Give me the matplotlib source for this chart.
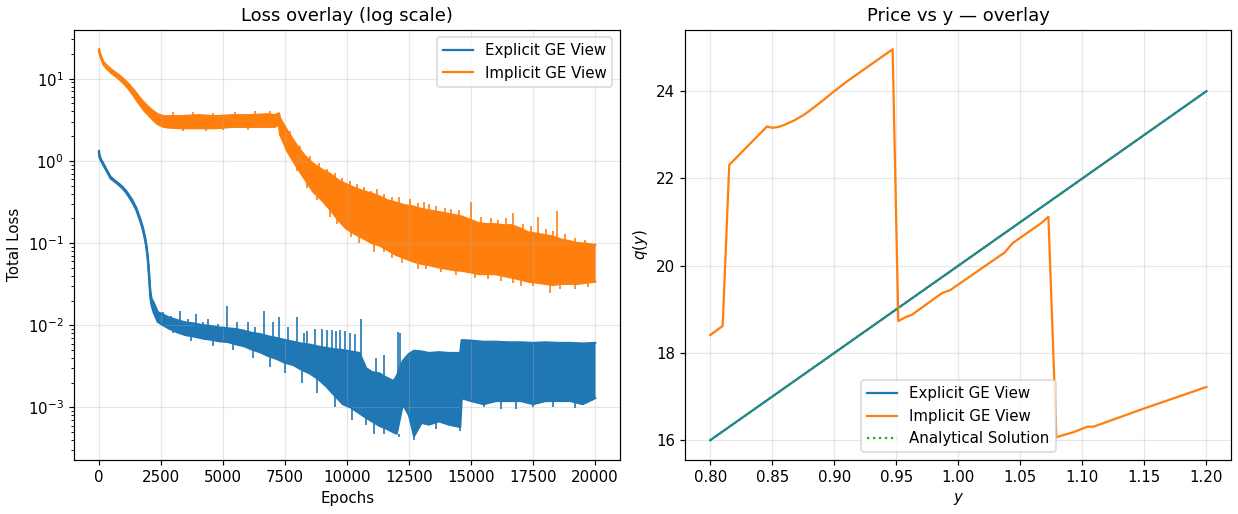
import numpy as np
import matplotlib.pyplot as plt

# =================================================
# Training loss envelopes (per-epoch loss is too dense to show point by point,
# so the noisy band is kept as its upper / lower edge plus the visible spikes)
# =================================================
exp_epoch = [0, 20, 70, 150, 300, 470, 600, 800, 930, 1100, 1330, 1500, 1670,
             1770, 1870, 1930, 1970, 2000, 2030, 2070, 2120, 2200, 2370,
             2800, 3170, 3500, 3840, 4200, 4500, 4850, 5170, 5500, 5830, 6150,
             6500, 6850, 7170, 7500, 7830, 8150, 8500, 8850, 9170, 9500,
             9830, 10150, 10500, 10770, 11000, 11300, 11600, 11870, 12000,
             12250, 12500, 12700, 13000, 13300, 13700, 14100, 14560, 14620,
             15000, 15500, 16000, 16500, 17000, 17500, 18000, 18500, 19000,
             19500, 20000]
exp_hi = [1.32, 1.17, 1.07, 0.96, 0.79, 0.64, 0.59, 0.53, 0.49, 0.43, 0.34,
          0.27, 0.195, 0.155, 0.113, 0.087, 0.067, 0.052, 0.039, 0.026, 0.021,
          0.019, 0.0145, 0.0125, 0.0115, 0.0108, 0.0105, 0.0100, 0.0098,
          0.0094, 0.0092, 0.0090, 0.0086, 0.0081, 0.0078, 0.0073, 0.0070,
          0.0066, 0.0063, 0.0060, 0.0058, 0.0055, 0.0053, 0.0051, 0.0050,
          0.0048, 0.0046, 0.0030, 0.0027, 0.0026, 0.0023, 0.0021, 0.0024,
          0.0037, 0.0045, 0.0049, 0.0048, 0.0046, 0.0047, 0.0046, 0.0046,
          0.0066, 0.0065, 0.0063, 0.0063, 0.0062, 0.0062, 0.0061, 0.0062,
          0.0061, 0.0061, 0.0060, 0.0061]
exp_lo = [1.24, 1.11, 1.02, 0.92, 0.76, 0.61, 0.57, 0.51, 0.47, 0.41, 0.32,
          0.255, 0.183, 0.145, 0.105, 0.080, 0.061, 0.047, 0.034, 0.022,
          0.0175, 0.0145, 0.011, 0.0092, 0.0082, 0.0076, 0.0073, 0.0069,
          0.0067, 0.0064, 0.0063, 0.0059, 0.0056, 0.0051, 0.0047, 0.0042,
          0.0039, 0.0035, 0.0033, 0.0029, 0.0026, 0.0022, 0.0018, 0.0014,
          0.0011, 0.0010, 0.00085, 0.00075, 0.00068, 0.00060, 0.00055,
          0.00050, 0.00048, 0.0011, 0.0008, 0.00045, 0.00065, 0.00062,
          0.00068, 0.00062, 0.00058, 0.0013, 0.0012, 0.0011, 0.0012, 0.0012,
          0.0012, 0.0011, 0.0012, 0.0012, 0.0012, 0.0011, 0.0013]

exp_spike_epoch = [2600, 2900, 3270, 3600, 3920, 4200, 4400, 4800, 5170, 5550,
                   6000, 6300, 6670, 7000, 7270, 7600, 8000, 8250, 8400, 8700,
                   9000, 9200, 9400, 9550, 9700, 9900, 10100, 10300, 10560,
                   11150, 11500, 12050, 12150,
                   3000, 3700, 4600, 5400, 6200, 6900, 7500, 8200, 8800, 9500,
                   10200, 10770, 11100, 11500, 12080, 12680, 13600, 14540,
                   15500, 16200, 16800, 17500, 18300, 19200]
exp_spike_from = [0.012, 0.011, 0.010, 0.010, 0.0095, 0.0092, 0.009, 0.009,
                  0.0088, 0.0085, 0.008, 0.0078, 0.0075, 0.007, 0.0068,
                  0.0065, 0.0062, 0.006, 0.0058, 0.0056, 0.0054, 0.0053,
                  0.0052, 0.0051, 0.0050, 0.0050, 0.0048, 0.0047, 0.0040,
                  0.0026, 0.0025, 0.0024, 0.0024,
                  0.0090, 0.0075, 0.0066, 0.0060, 0.0050, 0.0040, 0.0035,
                  0.0028, 0.0022, 0.0014, 0.0010, 0.0008, 0.0007, 0.0006,
                  0.00048, 0.0006, 0.0007, 0.0006, 0.0012, 0.0012, 0.0012,
                  0.0012, 0.0012, 0.0012]
exp_spike_to = [0.0145, 0.013, 0.015, 0.012, 0.0138, 0.011, 0.012, 0.0105,
                0.0174, 0.011, 0.011, 0.0095, 0.0151, 0.011, 0.0126, 0.0095,
                0.0126, 0.0080, 0.0085, 0.0089, 0.0089, 0.0087, 0.0088,
                0.0086, 0.0088, 0.0085, 0.0080, 0.0078, 0.0120, 0.0040,
                0.0044, 0.0083, 0.0081,
                0.0080, 0.0065, 0.0056, 0.0050, 0.0040, 0.0031, 0.0026,
                0.0020, 0.0015, 0.0010, 0.0007, 0.00062, 0.00048, 0.00048,
                0.00044, 0.00040, 0.00055, 0.00052, 0.0010, 0.00095, 0.00095,
                0.0010, 0.0010, 0.00098]

imp_epoch = [0, 60, 170, 300, 500, 800, 1040, 1200, 1400, 1550, 1700, 1850,
             2000, 2200, 2370, 2600, 2800, 3300, 4000, 4700,
             5400, 6100, 6800, 7100, 7250, 7300, 7600, 7970, 8300, 8640, 9000,
             9300, 9650, 9970, 10300, 10640, 11000, 11300, 11650, 11970, 12300,
             12640, 13000, 13300, 13650, 13970, 14300, 14640, 15000, 15300,
             15650, 15970, 16300, 16640, 17000, 17300, 17650, 17970, 18300,
             18650, 19000, 19300, 19650, 20000]
imp_hi = [22.8, 19.6, 16.2, 14.6, 12.9, 11.1, 9.6, 8.6, 7.3, 6.4, 5.6, 5.0,
          4.5, 4.0, 3.7, 3.5, 3.5, 3.5, 3.6, 3.5, 3.6,
          3.6, 3.7, 3.6, 3.8, 3.3, 2.3, 1.55, 1.15, 0.92, 0.78, 0.70, 0.58,
          0.52, 0.47, 0.43, 0.40, 0.37, 0.33, 0.31, 0.29, 0.28, 0.26, 0.25,
          0.24, 0.23, 0.22, 0.21, 0.19, 0.175, 0.17, 0.17, 0.165, 0.165, 0.15,
          0.135, 0.13, 0.125, 0.12, 0.11, 0.105, 0.10, 0.098, 0.095]
imp_lo = [21.4, 18.6, 15.0, 13.4, 11.7, 10.0, 8.5, 7.5, 6.2, 5.3, 4.6, 4.0,
          3.6, 3.1, 2.8, 2.6, 2.55, 2.5, 2.5, 2.5, 2.6,
          2.6, 2.6, 2.6, 2.8, 2.1, 1.3, 0.85, 0.60, 0.42, 0.33, 0.26, 0.19,
          0.15, 0.13, 0.115, 0.10, 0.094, 0.082, 0.072, 0.066, 0.060, 0.056,
          0.054, 0.051, 0.049, 0.047, 0.046, 0.044, 0.042, 0.042, 0.042,
          0.040, 0.038, 0.036, 0.034, 0.033, 0.032, 0.031, 0.032, 0.032,
          0.032, 0.033, 0.034]

imp_spike_epoch = [3000, 3800, 4600, 5500, 6300, 6900,
                   7700, 8100, 8500, 8850, 9200, 9500, 9800, 10100, 10400, 10700,
                   10970, 11200, 11500, 11800, 12100, 12540, 12850, 13100, 13300,
                   13600, 13950, 14200, 14500, 15010, 15400, 15800, 16100, 16400,
                   16680, 17100, 17400, 17700, 18000, 18300, 18480, 18800, 19200,
                   19600,
                   3400, 4300, 5000, 6000,
                   8000, 8400, 8800, 9300, 9600, 10170, 10500, 11080, 11500,
                   11810, 12200, 12840, 13200, 13800, 14400, 15170, 15700, 16200,
                   16700, 17010, 17500, 18170, 18600, 19170, 19700]
imp_spike_from = [3.5, 3.6, 3.5, 3.6, 3.6, 3.7,
                  2.0, 1.35, 1.0, 0.83, 0.72, 0.62, 0.55, 0.50, 0.46, 0.42,
                  0.40, 0.38, 0.35, 0.31, 0.30, 0.28, 0.27, 0.26, 0.25, 0.24,
                  0.23, 0.22, 0.21, 0.19, 0.175, 0.17, 0.167, 0.165, 0.165,
                  0.145, 0.135, 0.13, 0.125, 0.12, 0.115, 0.108, 0.10, 0.098,
                  2.5, 2.5, 2.55, 2.6,
                  0.85, 0.55, 0.38, 0.26, 0.20, 0.14, 0.12, 0.10, 0.088, 0.076,
                  0.068, 0.058, 0.055, 0.050, 0.047, 0.043, 0.042, 0.040,
                  0.038, 0.036, 0.034, 0.031, 0.032, 0.032, 0.033]
imp_spike_to = [3.9, 3.9, 3.8, 3.9, 4.0, 4.0,
                2.3, 1.5, 1.15, 0.95, 0.80, 0.72, 0.62, 0.57, 0.52, 0.48,
                0.43, 0.45, 0.40, 0.36, 0.36, 0.34, 0.31, 0.32, 0.30, 0.28,
                0.27, 0.26, 0.25, 0.32, 0.21, 0.20, 0.19, 0.20, 0.23, 0.17,
                0.16, 0.21, 0.15, 0.14, 0.245, 0.13, 0.115, 0.11,
                2.3, 2.3, 2.35, 2.35,
                0.75, 0.47, 0.33, 0.21, 0.17, 0.12, 0.10, 0.078, 0.077, 0.065,
                0.058, 0.048, 0.048, 0.044, 0.041, 0.038, 0.037, 0.035, 0.033,
                0.030, 0.030, 0.0246, 0.028, 0.028, 0.029]

# =================================================
# Price function q(y)
# =================================================
y_exp = [0.80, 1.20]
q_exp = [16.0, 24.0]

y_ana = [0.80, 1.20]
q_ana = [16.0, 24.0]

y_imp = [0.800, 0.810, 0.8153, 0.8457, 0.850, 0.855, 0.860, 0.867, 0.875,
         0.880, 0.890, 0.900, 0.910, 0.923, 0.935, 0.947, 0.9516, 0.9574,
         0.9628, 0.9867, 0.9934, 1.0372, 1.0439, 1.0665, 1.0726, 1.079,
         1.0934, 1.104, 1.109, 1.149, 1.200]
q_imp = [18.41, 18.62, 22.31, 23.19, 23.16, 23.18, 23.23, 23.32, 23.45,
         23.55, 23.77, 24.00, 24.22, 24.48, 24.72, 24.96, 18.73, 18.82,
         18.88, 19.37, 19.44, 20.30, 20.52, 20.97, 21.12, 16.07, 16.19,
         16.31, 16.31, 16.72, 17.22]

c_exp = "#1f77b4"
c_imp = "#ff7f0e"
c_ana = "#2ca02c"

fig, (ax1, ax2) = plt.subplots(1, 2, figsize=(1238 / 108, 514 / 108), dpi=108)

# -----------------------------
# Loss overlay
# -----------------------------
ax1.plot(exp_epoch, exp_hi, color=c_exp, lw=1.5, label="Explicit GE View")
ax1.plot(exp_epoch, exp_lo, color=c_exp, lw=1.5)
ax1.fill_between(exp_epoch, exp_lo, exp_hi, color=c_exp, lw=0)
ax1.vlines(exp_spike_epoch, exp_spike_from, exp_spike_to, color=c_exp, lw=1.1)

ax1.plot(imp_epoch, imp_hi, color=c_imp, lw=1.5, label="Implicit GE View")
ax1.plot(imp_epoch, imp_lo, color=c_imp, lw=1.5)
ax1.fill_between(imp_epoch, imp_lo, imp_hi, color=c_imp, lw=0)
ax1.vlines(imp_spike_epoch, imp_spike_from, imp_spike_to, color=c_imp, lw=1.1)

ax1.set_yscale("log")
ax1.set_xlabel("Epochs")
ax1.set_ylabel("Total Loss")
ax1.set_title("Loss overlay (log scale)")
ax1.grid(True, alpha=0.3)
ax1.legend(loc="upper right")

# -----------------------------
# Price vs y
# -----------------------------
ax2.plot(y_exp, q_exp, color=c_exp, lw=1.5, label="Explicit GE View")
ax2.plot(y_imp, q_imp, color=c_imp, lw=1.5, label="Implicit GE View")
ax2.plot(y_ana, q_ana, color=c_ana, lw=1.5, ls=":", label="Analytical Solution")

ax2.set_xlabel("$y$")
ax2.set_ylabel("$q(y)$")
ax2.set_title("Price vs y — overlay")
ax2.grid(True, alpha=0.3)
ax2.legend(loc="lower center")

plt.tight_layout(pad=0.45)
plt.savefig("out.png")
